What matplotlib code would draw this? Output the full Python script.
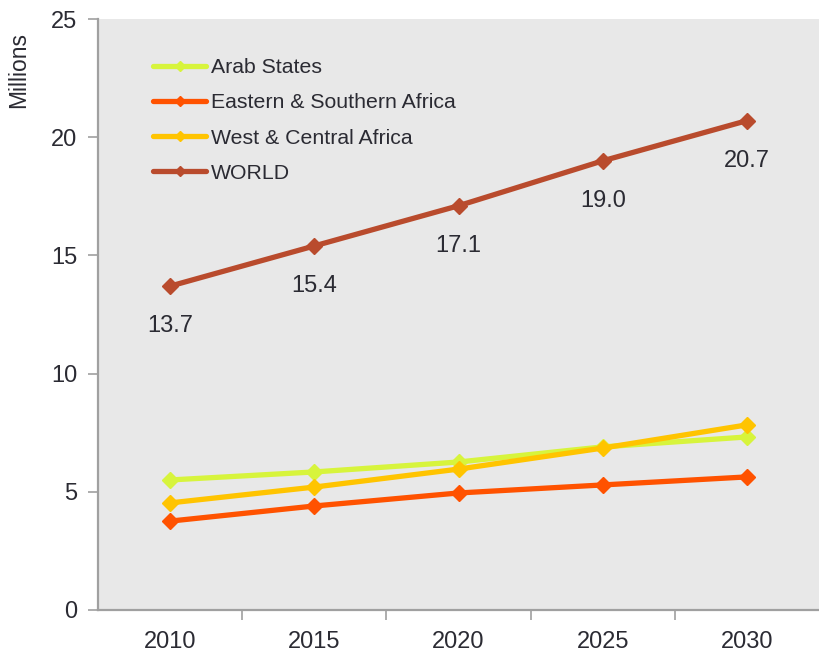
import matplotlib
matplotlib.use("Agg")
import matplotlib.pyplot as plt
from matplotlib.ticker import FixedLocator

years = ["2010", "2015", "2020", "2025", "2030"]
arab_states = [5.5, 5.84, 6.26, 6.9, 7.32]
east_south_africa = [3.76, 4.4, 4.95, 5.29, 5.63]
west_central_africa = [4.53, 5.2, 5.96, 6.85, 7.83]
world = [13.7, 15.4, 17.1, 19.0, 20.7]
world_labels = ["13.7", "15.4", "17.1", "19.0", "20.7"]

plt.rcParams["font.family"] = ["Liberation Sans", "DejaVu Sans"]
text_color = "#2b2b33"
axis_color = "#a0a0a0"

fig = plt.figure(figsize=(8.19, 6.52), dpi=100)
ax = fig.add_axes([98 / 819, 42 / 652, 721 / 819, 591 / 652])
ax.set_facecolor("#e8e8e8")

x = list(range(len(years)))
series = [
    ("Arab States", arab_states, "#d7f43c"),
    ("Eastern & Southern Africa", east_south_africa, "#ff5200"),
    ("West & Central Africa", west_central_africa, "#ffc400"),
    ("WORLD", world, "#b94b2d"),
]
for name, vals, color in series:
    ax.plot(x, vals, color=color, lw=3.8, marker="D", ms=8, mec=color,
            mfc=color, label=name, solid_capstyle="round")

for xi, v, lab in zip(x, world, world_labels):
    ax.annotate(lab, (xi, v), xytext=(0, -29), textcoords="offset points",
                ha="center", va="center", fontsize=17, color=text_color)

ax.set_xlim(-0.5, len(years) - 0.5)
ax.set_ylim(0, 25)
ax.set_yticks([0, 5, 10, 15, 20, 25])
ax.set_xticks(x)
ax.set_xticklabels(years)
ax.xaxis.set_minor_locator(FixedLocator([0.5, 1.5, 2.5, 3.5]))
ax.tick_params(axis="x", which="major", length=0, pad=15, labelsize=17,
               labelcolor=text_color)
ax.tick_params(axis="x", which="minor", length=7, width=1.2, color=axis_color,
               direction="out")
ax.tick_params(axis="y", length=7, width=1.2, color=axis_color, pad=8,
               labelsize=17, labelcolor=text_color)

for side in ["top", "right"]:
    ax.spines[side].set_visible(False)
for side in ["left", "bottom"]:
    ax.spines[side].set_color(axis_color)
    ax.spines[side].set_linewidth(1.6)

ax.set_ylabel("Millions", fontsize=16.5, color=text_color)
ax.yaxis.set_label_coords(-0.094, 0.914)

leg = ax.legend(loc="upper left", bbox_to_anchor=(0.065, 0.948), frameon=False,
                fontsize=15.3, handlelength=2.5, handletextpad=0.2,
                labelspacing=0.76, borderaxespad=0)
for t in leg.get_texts():
    t.set_color(text_color)
for h in leg.legend_handles:
    h.set_markersize(5)

fig.savefig("out.png", dpi=100)
